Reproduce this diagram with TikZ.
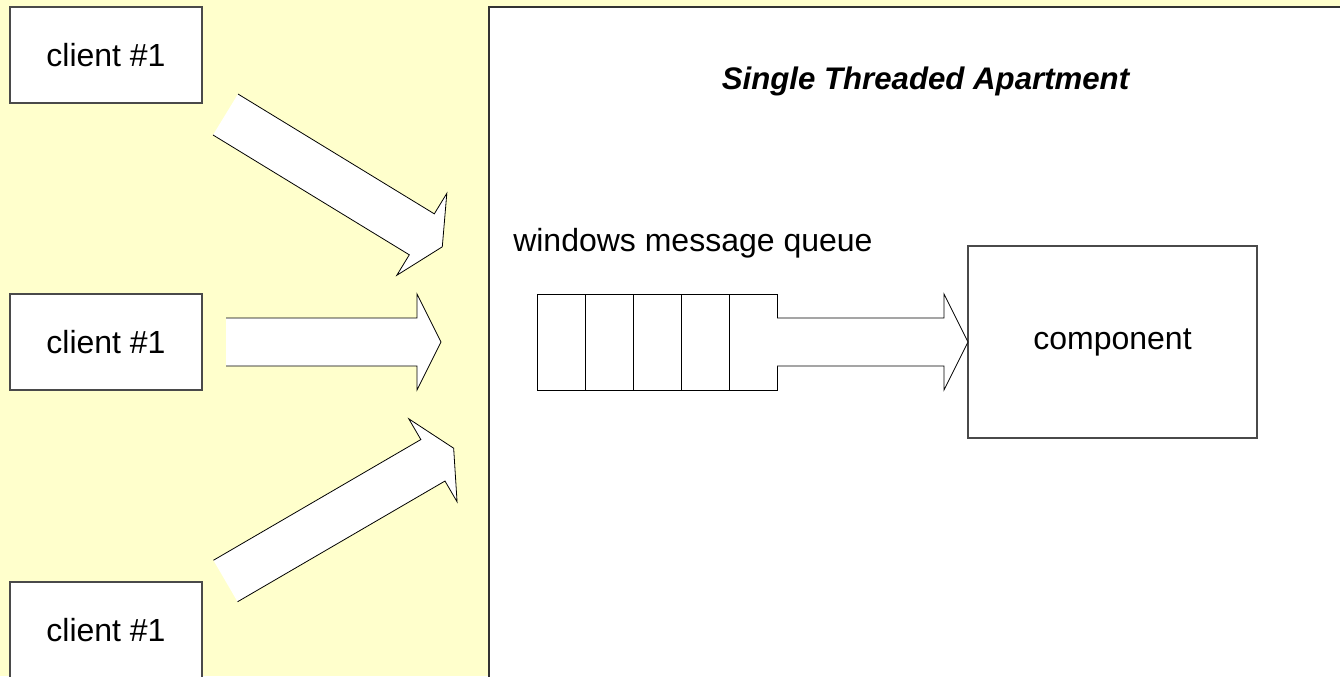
\documentclass[tikz,border=0pt]{standalone}
\usepackage{fontspec}
\setmainfont{Liberation Sans}
\usetikzlibrary{positioning}

\definecolor{paleyellow}{HTML}{FFFFCC}
\definecolor{frame}{HTML}{333333}
\definecolor{boxedge}{HTML}{4A4A4A}

\tikzset{
  bodytext/.style={font=\fontsize{24}{28}\selectfont},
  clientbox/.style={draw=boxedge, line width=1pt, fill=white, inner sep=0pt,
    minimum width=144pt, minimum height=72pt, bodytext},
  cell/.style={draw=black, line width=0.6pt, fill=white, inner sep=0pt,
    outer sep=0pt, minimum width=36pt, minimum height=72pt},
  % hollow block arrow along local +x, tail edge left open; #1 = length in px
  pics/blockarrow/.style={code={
    \fill[white] (0,-24) -- (#1-24,-24) -- (#1-24,-48) -- (#1,0)
      -- (#1-24,48) -- (#1-24,24) -- (0,24) -- cycle;
    \draw[black, line width=0.6pt, line join=miter]
      (0,-24) -- (#1-24,-24) -- (#1-24,-48) -- (#1,0)
      -- (#1-24,48) -- (#1-24,24) -- (0,24);
  }}
}

\begin{document}
\begin{tikzpicture}[x=0.75pt, y=-0.75pt]
  \useasboundingbox (0,0) rectangle (1340,676);
  \fill[paleyellow] (0,0) rectangle (1340,676);

  % apartment frame
  \draw[frame, line width=1.3pt, fill=white] (489,7) rectangle (1360,700);
  \node[anchor=base, inner sep=0pt,
        font=\fontsize{23.4}{27}\selectfont\bfseries\itshape]
        (title) at (925.5,89) {Single Threaded Apartment};

  % clients
  \node[clientbox] (c1) at (106,55)  {client \#1};
  \node[clientbox] (c2) at (106,342) {client \#1};
  \node[clientbox] (c3) at (106,630) {client \#1};

  % block arrows from clients towards the apartment
  \pic[rotate=-31.4] at (225.5,114.5) {blockarrow=254};
  \pic at (226,342) {blockarrow=215};
  \pic[rotate=30.2] at (225.5,581) {blockarrow=264};

  % message queue
  \node[anchor=base west, inner sep=0pt, bodytext] (qlabel) at (513,251)
        {windows message queue};
  \node[cell] (q1) at (561,342) {};
  \node[cell, right=0pt of q1] (q2) {};
  \node[cell, right=0pt of q2] (q3) {};
  \node[cell, right=0pt of q3] (q4) {};
  \node[cell, right=0pt of q4] (q5) {};

  % component
  \node[draw=boxedge, line width=1pt, fill=white, inner sep=0pt,
        minimum width=216.75pt, minimum height=144pt, bodytext]
        (comp) at (1112.5,342) {component};

  % queue -> component
  \path (q5.east) pic {blockarrow=191};
\end{tikzpicture}
\end{document}
